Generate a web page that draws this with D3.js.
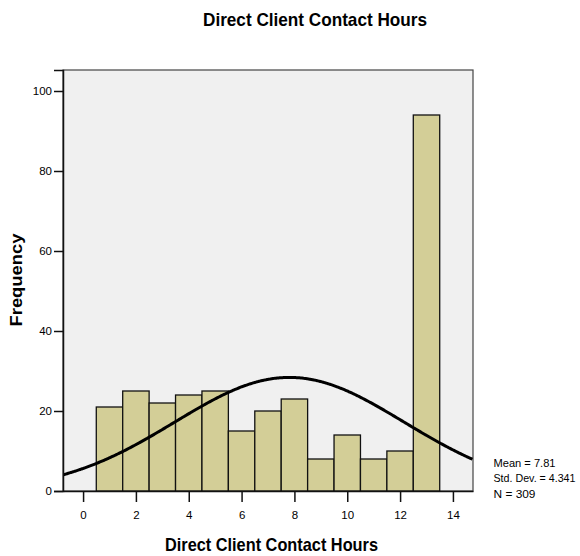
<!DOCTYPE html>
<html><head><meta charset="utf-8">
<script src="https://cdn.jsdelivr.net/npm/d3@7"></script>
<style>body{margin:0;background:#fff}svg{display:block}</style>
</head><body>
<script>
const categories = [1,2,3,4,5,6,7,8,9,10,11,12,13];
const frequencies = [21,25,22,24,25,15,20,23,8,14,8,10,94];
const xTicks = [0,2,4,6,8,10,12,14];
const yTicks = [0,20,40,60,80,100];
const statsMean = 7.81, statsSD = 4.341, statsN = 309, binWidth = 1;
const statLines = ["Mean = 7.81","Std. Dev. = 4.341","N = 309"];

const W=580,H=556;
const svg=d3.select("body").append("svg").attr("width",W).attr("height",H);
const L=63,R=473,T=70,B=491;
const x=d3.scaleLinear().domain([-0.76,14.76]).range([L,R]);
const y=d3.scaleLinear().domain([0,105.25]).range([B,T]);
const sans="'Liberation Sans',Arial,sans-serif";

svg.append("text").attr("x",315).attr("y",26).attr("text-anchor","middle")
  .attr("textLength",224).attr("lengthAdjust","spacingAndGlyphs")
  .style("font-family",sans).style("font-weight","bold").style("font-size","18.5px").text("Direct Client Contact Hours");

svg.append("rect").attr("x",L).attr("y",T).attr("width",R-L).attr("height",B-T)
  .attr("fill","#f0f0f0").attr("stroke","#444").attr("stroke-width",1.2);

svg.selectAll("rect.bar").data(categories).enter().append("rect").attr("class","bar")
  .attr("x",d=>x(d-binWidth/2)).attr("width",d=>x(d+binWidth/2)-x(d-binWidth/2))
  .attr("y",(d,i)=>y(frequencies[i])).attr("height",(d,i)=>y(0)-y(frequencies[i]))
  .attr("fill","#d3ce97").attr("stroke","#111").attr("stroke-width",1.3);

svg.append("clipPath").attr("id","clip").append("rect").attr("x",L).attr("y",T).attr("width",R-L).attr("height",B-T);
const curveX=d3.range(-0.76,14.77,0.05);
const pdf=v=>statsN*binWidth/(statsSD*Math.sqrt(2*Math.PI))*Math.exp(-0.5*((v-statsMean)/statsSD)**2);
svg.append("path").datum(curveX).attr("clip-path","url(#clip)")
  .attr("d",d3.line().x(d=>x(d)).y(d=>y(pdf(d))).curve(d3.curveBasis))
  .attr("fill","none").attr("stroke","#000").attr("stroke-width",3);

const ya=svg.append("g").attr("transform",`translate(${L},0)`)
  .call(d3.axisLeft(y).tickValues(yTicks).tickSize(9).tickPadding(2));
ya.select(".domain").attr("stroke","#111").attr("stroke-width",1.5);
ya.selectAll(".tick line").attr("stroke","#111").attr("stroke-width",1.5);
ya.selectAll("text").style("font-family",sans).style("font-size","11.5px").attr("fill","#000");

const xa=svg.append("g").attr("transform",`translate(0,${B})`)
  .call(d3.axisBottom(x).tickValues(xTicks).tickSize(11).tickPadding(9).tickSizeOuter(0));
xa.select(".domain").attr("stroke","#111").attr("stroke-width",1.5);
xa.selectAll(".tick line").attr("stroke","#111").attr("stroke-width",1.5);
xa.selectAll("text").style("font-family",sans).style("font-size","11.5px").attr("fill","#000");

svg.append("text").attr("transform","translate(22,280) rotate(-90)").attr("text-anchor","middle")
  .attr("textLength",93).attr("lengthAdjust","spacingAndGlyphs")
  .style("font-family",sans).style("font-weight","bold").style("font-size","17px").text("Frequency");
svg.append("text").attr("x",271.5).attr("y",551).attr("text-anchor","middle")
  .attr("textLength",213).attr("lengthAdjust","spacingAndGlyphs")
  .style("font-family",sans).style("font-weight","bold").style("font-size","18.5px").text("Direct Client Contact Hours");

const statW=[62,82,42];
svg.selectAll("text.stat").data(statLines).enter().append("text").attr("class","stat")
  .attr("x",493.5).attr("y",(d,i)=>466.5+i*15.5)
  .attr("textLength",(d,i)=>statW[i]).attr("lengthAdjust","spacingAndGlyphs")
  .style("font-family",sans).style("font-size","11px").text(d=>d);
</script>
</body></html>
